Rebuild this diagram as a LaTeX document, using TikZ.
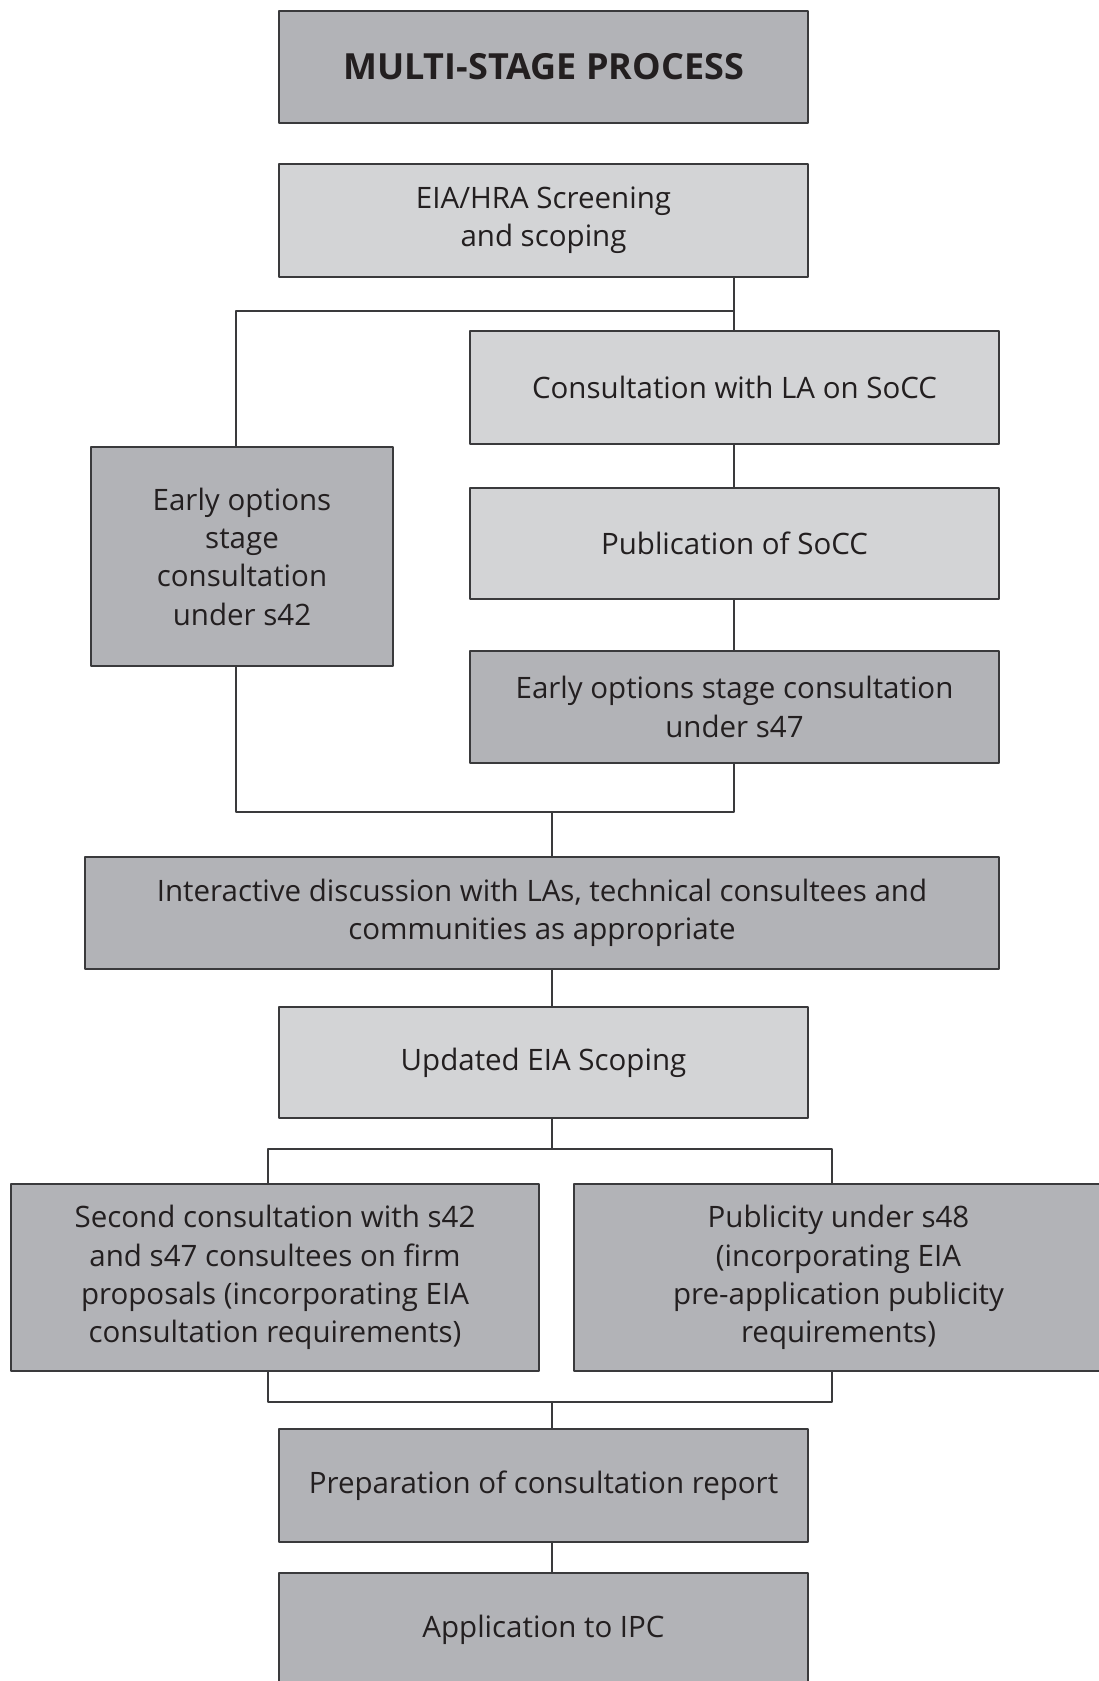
\documentclass[tikz,border=0pt]{standalone}
\usepackage{fontspec}
\setmainfont{Open Sans}
\definecolor{boxdark}{RGB}{178,179,183}
\definecolor{boxlight}{RGB}{211,212,214}
\definecolor{rule}{RGB}{58,58,60}
\definecolor{ink}{RGB}{35,31,32}
\begin{document}
\begin{tikzpicture}[x=1pt,y=-1pt,line join = round,
    stage/.style={draw=rule,line width=1.4pt,rectangle,align=center,inner sep=0pt,
      text=ink,font=\fontsize{29.5}{38.3}\selectfont,minimum width=529pt,minimum height=112pt},
    dark/.style={stage,fill=boxdark},
    light/.style={stage,fill=boxlight},
    link/.style={draw=rule,line width=1.2pt}]
\useasboundingbox (0,0) rectangle (1099,1681);
% boxes
\node[dark,font=\fontsize{36}{40}\selectfont\bfseries] (title) at (543.5,67) {MULTI-STAGE PROCESS};
\node[light,minimum height=113pt] (screen) at (543.5,220.5) {EIA/HRA Screening\\and scoping};
\node[light,minimum height=113pt] (socc) at (734.5,387.5) {Consultation with LA on SoCC};
\node[light,minimum height=111pt] (pub) at (734.5,543.5) {Publication of SoCC};
\node[dark] (s47) at (734.5,707) {Early options stage consultation\\under s47};
\node[dark,minimum width=302pt,minimum height=219pt] (s42) at (242,556.5) {Early options\\stage\\consultation\\under s42};
\node[dark,minimum width=914pt] (inter) at (542,913) {Interactive discussion with LAs, technical consultees and\\communities as appropriate};
\node[light,minimum height=111pt] (upd) at (543.5,1062.5) {Updated EIA Scoping};
\node[dark,minimum width=528pt,minimum height=187pt] (second) at (275,1277.5) {Second consultation with s42\\and s47 consultees on firm\\proposals (incorporating EIA\\consultation requirements)};
\node[dark,minimum height=187pt] (publ) at (838.5,1277.5) {Publicity under s48\\(incorporating EIA\\pre-application publicity\\requirements)};
\node[dark,minimum height=113pt] (prep) at (543.5,1485.5) {Preparation of consultation report};
\node[dark,minimum height=113pt] (app) at (543.5,1629.5) {Application to IPC};
% joints
\coordinate (tl) at (236,311);
\coordinate (tr) at (734,311);
\coordinate (bl) at (236,812);
\coordinate (br) at (734,812);
\coordinate (bm) at (552,812);
\coordinate (sl) at (268,1149);
\coordinate (sr) at (832,1149);
\coordinate (ml) at (268,1402);
\coordinate (mr) at (832,1402);
% connectors
\draw[link] (screen.south -| tr) -- (socc.north -| tr);
\draw[link] (tr) -- (tl) -- (tl |- s42.north);
\draw[link] (socc.south -| tr) -- (pub.north -| tr);
\draw[link] (pub.south -| tr) -- (s47.north -| tr);
\draw[link] (bl |- s42.south) -- (bl) -- (br) -- (br |- s47.south);
\draw[link] (bm) -- (bm |- inter.north);
\draw[link] (inter.south -| bm) -- (upd.north -| bm);
\draw[link] (upd.south -| bm) -- (bm |- sl);
\draw[link] (sl |- second.north) -- (sl) -- (sr) -- (sr |- publ.north);
\draw[link] (ml |- second.south) -- (ml) -- (mr) -- (mr |- publ.south);
\draw[link] (bm |- ml) -- (bm |- prep.north);
\draw[link] (prep.south -| bm) -- (app.north -| bm);
\end{tikzpicture}
\end{document}
